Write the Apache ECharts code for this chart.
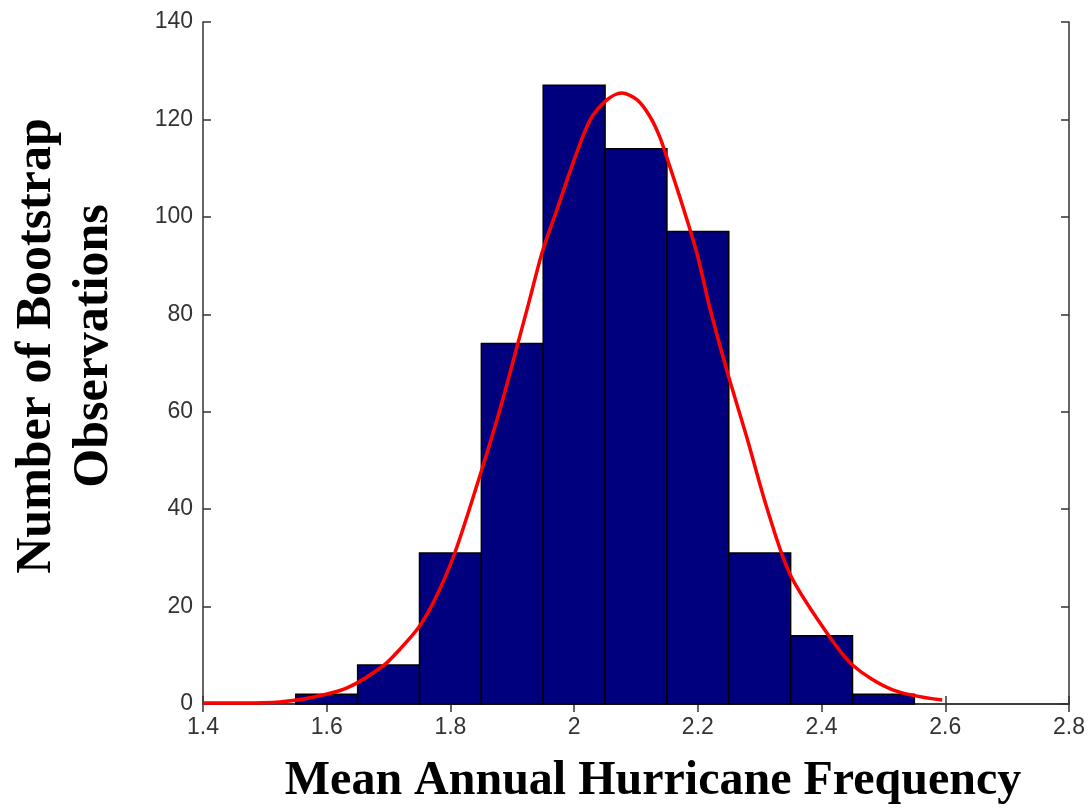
<!DOCTYPE html>
<html lang="en">
  <head>
    <meta charset="UTF-8" />
    <title>Mean Annual Hurricane Frequency</title>
    <script src="https://cdn.jsdelivr.net/npm/echarts@6.0.0/dist/echarts.min.js"></script>
    <style>
      html, body { margin: 0; padding: 0; background: #fff; }
      #main { width: 1090px; height: 809px; }
    </style>
  </head>
  <body>
    <div id="main"></div>

    <script>
      // histogram bins (centres, width 0.1) and counts
      var binCenters = [1.6, 1.7, 1.8, 1.9, 2.0, 2.1, 2.2, 2.3, 2.4, 2.5];
      var binCounts = [2, 8, 31, 74, 127, 114, 97, 31, 14, 2];
      var binWidth = 0.1;

      // fitted curve
      var curveX = [1.400, 1.460, 1.524, 1.578, 1.633, 1.691, 1.718, 1.749, 1.775, 1.807,
                    1.847, 1.880, 1.909, 1.928, 1.948, 1.972, 1.998, 2.026, 2.053, 2.077,
                    2.102, 2.123, 2.139, 2.155, 2.171, 2.187, 2.200, 2.219, 2.248, 2.279,
                    2.311, 2.348, 2.402, 2.450, 2.515, 2.595];
      var curveY = [0.2, 0.2, 0.4, 1.4, 3.3, 7.8, 11.2, 15.8, 21.5, 31,
                    46.6, 60.4, 74, 83, 92.6, 101.4, 111, 119.9, 124, 125.4,
                    124, 120.5, 116.2, 110.2, 104, 97.5, 91.8, 81.5, 68, 54.8,
                    40.5, 26.9, 15.8, 8.0, 2.9, 0.8];

      var xTicks = { min: 1.4, max: 2.8, interval: 0.2 };
      var yTicks = { min: 0, max: 140, interval: 20 };

      var axisColor = "#333";
      var labelFont = { color: "#333", fontSize: 23, fontFamily: "Liberation Sans" };

      var barData = binCenters.map(function (c, i) { return [c, binCounts[i]]; });
      var curveData = curveX.map(function (x, i) { return [x, curveY[i]]; });

      var myChart = echarts.init(document.getElementById("main"));

      var option = {
        animation: false,
        grid: { left: 203, right: 21, top: 22, bottom: 105 },
        xAxis: [
          {
            type: "value",
            min: xTicks.min, max: xTicks.max, interval: xTicks.interval,
            splitLine: { show: false },
            axisLine: { lineStyle: { color: axisColor, width: 1.5 } },
            axisTick: { inside: true, length: 8, lineStyle: { color: axisColor, width: 1.5 } },
            axisLabel: Object.assign({ margin: 12 }, labelFont)
          },
          {
            type: "value", position: "top",
            min: xTicks.min, max: xTicks.max, interval: xTicks.interval,
            splitLine: { show: false },
            axisLine: { lineStyle: { color: axisColor, width: 1.5 } },
            axisTick: { inside: true, length: 8, lineStyle: { color: axisColor, width: 1.5 } },
            axisLabel: { show: false }
          }
        ],
        yAxis: [
          {
            type: "value",
            min: yTicks.min, max: yTicks.max, interval: yTicks.interval,
            splitLine: { show: false },
            axisLine: { show: true, lineStyle: { color: axisColor, width: 1.5 } },
            axisTick: { show: true, inside: true, length: 8, lineStyle: { color: axisColor, width: 1.5 } },
            axisLabel: Object.assign({ margin: 10 }, labelFont)
          },
          {
            type: "value", position: "right",
            min: yTicks.min, max: yTicks.max, interval: yTicks.interval,
            splitLine: { show: false },
            axisLine: { show: true, lineStyle: { color: axisColor, width: 1.5 } },
            axisTick: { show: true, inside: true, length: 8, lineStyle: { color: axisColor, width: 1.5 } },
            axisLabel: { show: false }
          }
        ],
        graphic: [
          {
            type: "text",
            x: 66, y: 346,
            rotation: Math.PI / 2,
            style: {
              text: "Number of Bootstrap\nObservations",
              fill: "#000",
              font: "bold 50px 'Liberation Serif'",
              align: "center",
              verticalAlign: "middle",
              lineHeight: 57
            }
          },
          {
            type: "text",
            x: 653, y: 782,
            style: {
              text: "Mean Annual Hurricane Frequency",
              fill: "#000",
              font: "bold 48px 'Liberation Serif'",
              align: "center",
              verticalAlign: "middle"
            }
          }
        ],
        series: [
          {
            name: "Bootstrap counts",
            type: "custom",
            renderItem: function (params, api) {
              var c = api.value(0);
              var topLeft = api.coord([c - binWidth / 2, api.value(1)]);
              var bottomRight = api.coord([c + binWidth / 2, 0]);
              return {
                type: "rect",
                shape: {
                  x: topLeft[0], y: topLeft[1],
                  width: bottomRight[0] - topLeft[0],
                  height: bottomRight[1] - topLeft[1]
                },
                style: { fill: "#00007f", stroke: "#000", lineWidth: 1.5 }
              };
            },
            encode: { x: 0, y: 1 },
            data: barData,
            z: 2
          },
          {
            name: "Fit",
            type: "line",
            data: curveData,
            smooth: 0.3,
            showSymbol: false,
            lineStyle: { color: "#ff0000", width: 3.5 },
            z: 3
          }
        ]
      };

      myChart.setOption(option);
    </script>
  </body>
</html>
